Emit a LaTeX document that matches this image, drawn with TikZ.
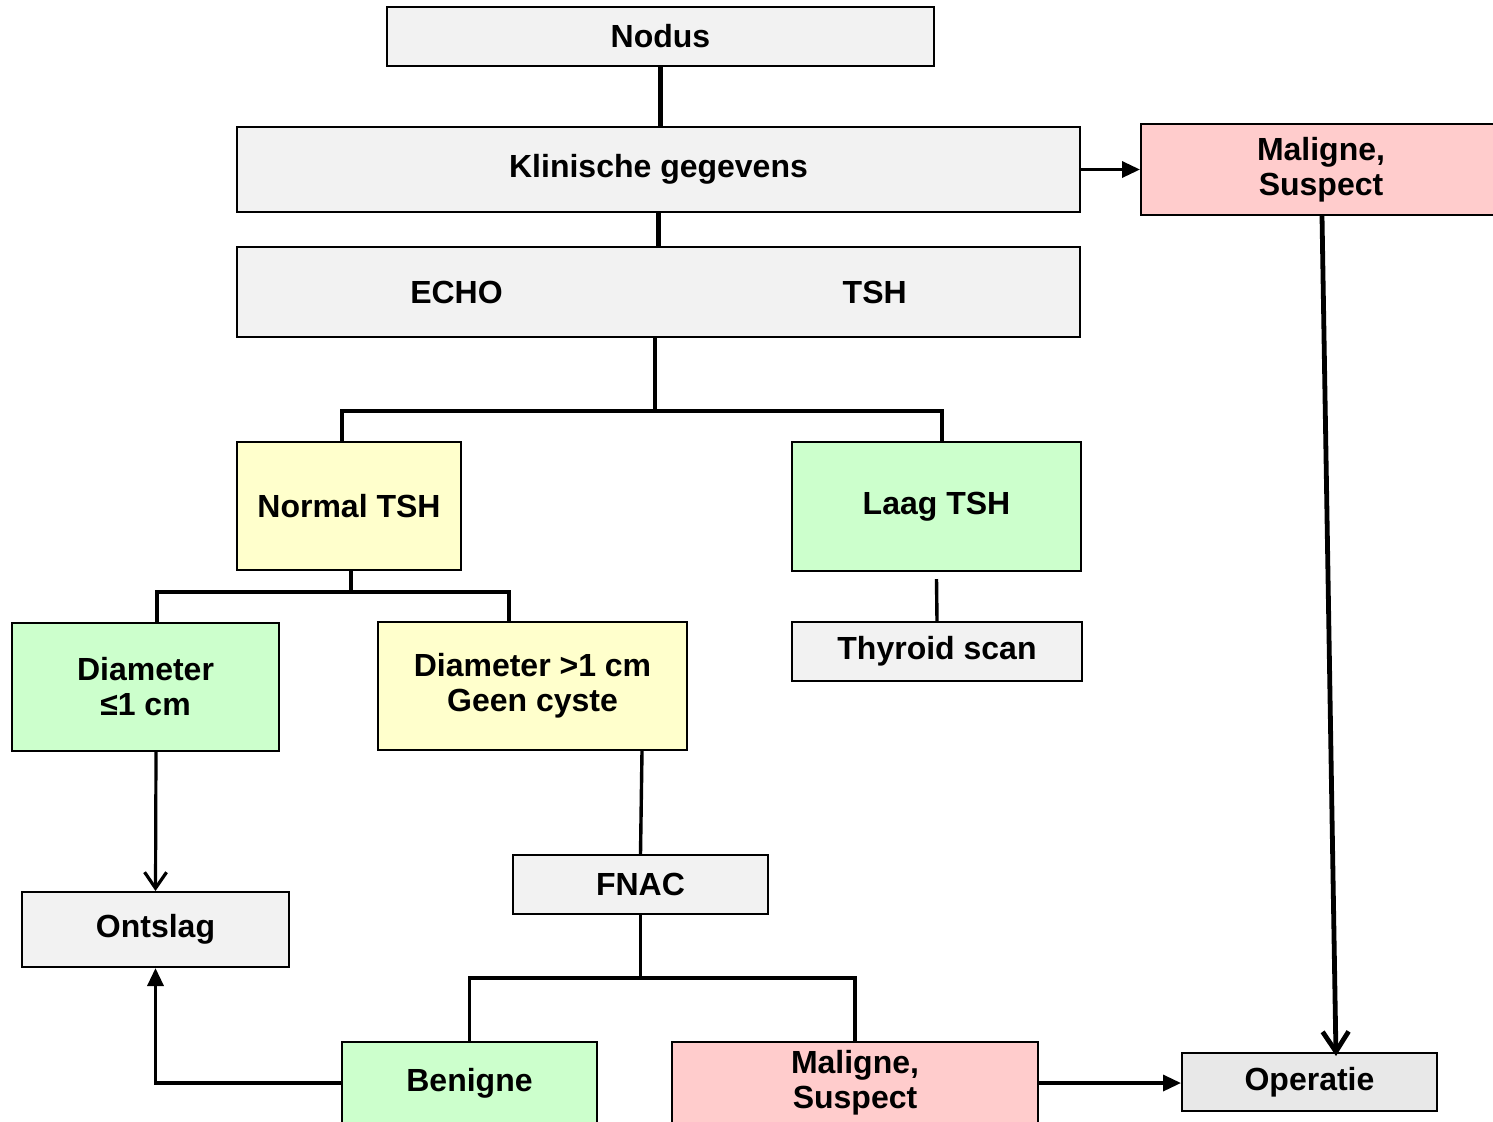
\documentclass[tikz,border=0pt]{standalone}
\usepackage{fontspec}
\setmainfont{Liberation Sans}
\usetikzlibrary{arrows.meta,calc}
\definecolor{boxgray}{HTML}{F2F2F2}
\definecolor{opgray}{HTML}{E8E8E8}
\definecolor{boxpink}{HTML}{FFCCCC}
\definecolor{boxgreen}{HTML}{CCFFCC}
\definecolor{boxyellow}{HTML}{FFFFCC}
\tikzset{
  box/.style={draw=black, line width=1pt, inner sep=0pt, align=center,
    font=\bfseries\fontsize{16}{17.5}\selectfont},
  graybox/.style={box, fill=boxgray},
  pinkbox/.style={box, fill=boxpink},
  greenbox/.style={box, fill=boxgreen},
  yellowbox/.style={box, fill=boxyellow},
  opbox/.style={box, fill=opgray},
  size/.style 2 args={minimum width=#1*0.5pt, minimum height=#2*0.5pt},
  trunk/.style={line width=2.4pt},
  branch/.style={line width=1.7pt},
  fillarrow/.style={line width=1.7pt, -{Triangle[length=9pt,width=8pt]}},
  openarrow/.style={line width=1.6pt, -{Straight Barb[length=8pt,width=11pt,line width=1.6pt]}},
  bigopenarrow/.style={line width=2.4pt, -{Straight Barb[length=10pt,width=13pt,line width=2.4pt]}},
}
\begin{document}
\begin{tikzpicture}[x=0.5pt, y=-0.5pt]
  \useasboundingbox[fill=white] (0,0) rectangle (1493,1121);

  % boxes
  \node[graybox, size={547}{59}] (nodus) at (660.5,36.5) {Nodus};
  \node[graybox, size={843}{85}] (klin) at (658.5,169.5) {\raisebox{-1pt}{Klinische gegevens}};
  \node[pinkbox, size={360}{91}] (maltop) at (1321,169.5) {Maligne,\\Suspect};
  \node[graybox, size={843}{90}] (echo) at (658.5,292) {\raisebox{-1.5pt}{ECHO\hspace{170pt}TSH}};
  \node[yellowbox, size={224}{128}] (ntsh) at (349,506) {Normal TSH};
  \node[greenbox, size={289}{129}] (laag) at (936.5,506.5) {Laag TSH};
  \node[graybox, size={290}{59}] (scan) at (937,651.5) {Thyroid scan};
  \node[greenbox, size={267}{128}] (dsmall) at (145.5,687) {Diameter\\≤1 cm};
  \node[yellowbox, size={309}{128}] (dlarge) at (532.5,686) {Diameter >1 cm\\Geen cyste};
  \node[graybox, size={255}{59}] (fnac) at (640.5,884.5) {FNAC};
  \node[graybox, size={267}{75}] (ontslag) at (155.5,929.5) {Ontslag};
  \node[greenbox, size={255}{82}] (benigne) at (469.5,1083) {Benigne};
  \node[pinkbox, size={366}{82}] (malbot) at (855,1083) {Maligne,\\Suspect};
  \node[opbox, size={255}{58}] (operatie) at (1309.5,1082) {Operatie};

  % junction points of the branching connectors
  \coordinate (j1) at (655,411);
  \coordinate (j2) at (351,592);
  \coordinate (j3) at (640,978);

  % connectors
  \draw[trunk] (nodus.south) -- (nodus.south |- klin.north);
  \draw[trunk] (klin.south) -- (klin.south |- echo.north);
  \draw[fillarrow] (klin.east) -- (maltop.west);

  \draw[trunk] (echo.south -| j1) -- (j1);
  \draw[branch] ($(ntsh.north)+(-7,0)$) |- (j1) -| ($(laag.north)+(5.5,0)$);

  \draw[branch] (ntsh.south -| j2) -- (j2);
  \draw[branch] ($(dsmall.north)+(11.5,0)$) |- (j2) -| ($(dlarge.north)+(-23.5,0)$);

  \draw[branch] ($(laag.south)+(0,7)$) -- (scan.north);

  \draw[openarrow] ($(dsmall.south)+(10.5,0)$) -- (ontslag.north);
  \draw[branch] ($(dlarge.south)+(109.5,0)$) -- (fnac.north);

  \draw[branch] (fnac.south) -- (fnac.south |- j3);
  \draw[branch] (benigne.north) |- (j3) -| (malbot.north);

  \draw[fillarrow] (benigne.west) -| (ontslag.south);
  \draw[fillarrow] (malbot.east) -- (malbot.east -| operatie.west);

  \draw[bigopenarrow] ($(maltop.south)+(1,0)$) -- ($(operatie.north)+(26.5,4)$);
\end{tikzpicture}
\end{document}
